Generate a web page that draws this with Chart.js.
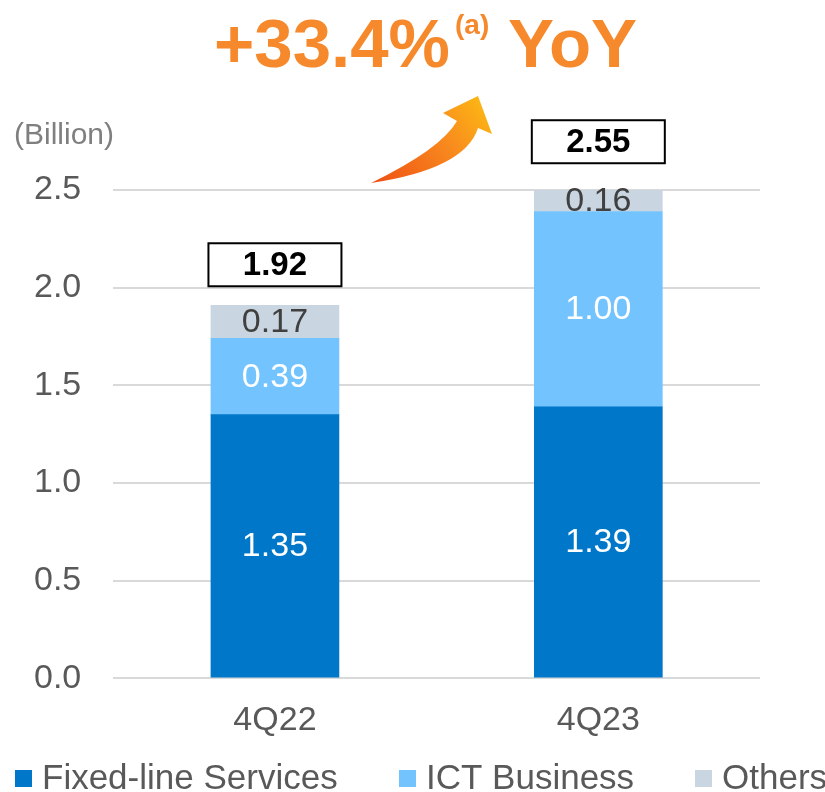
<!DOCTYPE html>
<html>
<head>
<meta charset="utf-8">
<script src="https://cdn.jsdelivr.net/npm/chart.js@4"></script>
<style>
  html, body { margin: 0; padding: 0; background: #fff; }
  #wrap { width: 825px; height: 792px; position: relative; }
</style>
</head>
<body>
<div id="wrap"><canvas id="rev"></canvas></div>
<script>
const quarters = ["4Q22", "4Q23"];
const fixedLine = [1.35, 1.39];
const ictBusiness = [0.39, 1.00];
const others = [0.17, 0.16];
const totals = [1.92, 2.55];
const yTicks = [0, 0.5, 1.0, 1.5, 2.0, 2.5];
const seriesNames = ["Fixed-line Services", "ICT Business", "Others"];
const seriesColors = ["#0077C8", "#73C3FF", "#C9D5E1"];

const FONT = "'Liberation Sans', Arial, sans-serif";

// labels inside the segments, total boxes, headline, arrow and legend
const decorations = {
  id: "decorations",
  afterDatasetsDraw(chart) {
    const ctx = chart.ctx;
    const area = chart.chartArea;
    const yScale = chart.scales.y;
    ctx.save();
    ctx.font = "34px " + FONT;
    ctx.textAlign = "center";
    ctx.textBaseline = "middle";
    chart.data.datasets.forEach((ds, i) => {
      const meta = chart.getDatasetMeta(i);
      meta.data.forEach((bar, j) => {
        const top = Math.max(bar.y, area.top);
        const mid = (top + bar.base) / 2;
        ctx.fillStyle = i === 2 ? "#404040" : "#ffffff";
        ctx.fillText(ds.data[j].toFixed(2), bar.x, mid + 1);
      });
    });

    // total boxes
    const meta0 = chart.getDatasetMeta(0);
    totals.forEach((t, j) => {
      const x = meta0.data[j].x;
      const bottom = yScale.getPixelForValue(t) - 17;
      const w = 133, h = 43;
      ctx.fillStyle = "#ffffff";
      ctx.fillRect(x - w / 2, bottom - h, w, h);
      ctx.lineWidth = 2;
      ctx.strokeStyle = "#000000";
      ctx.strokeRect(x - w / 2, bottom - h, w, h);
      ctx.fillStyle = "#000000";
      ctx.font = "bold 33px " + FONT;
      ctx.fillText(t.toFixed(2), x, bottom - h / 2 + 1);
    });
    ctx.restore();
  },
  afterDraw(chart) {
    const ctx = chart.ctx;
    ctx.save();
    // unit label
    ctx.fillStyle = "#7f7f7f";
    ctx.font = "30px " + FONT;
    ctx.textAlign = "left";
    ctx.textBaseline = "alphabetic";
    ctx.fillText("(Billion)", 14, 144);

    // headline
    ctx.fillStyle = "#F6892B";
    ctx.font = "bold 69px " + FONT;
    ctx.fillText("+33.4%", 214, 67);
    ctx.font = "bold 28px " + FONT;
    ctx.fillText("(a)", 455, 34);
    ctx.font = "bold 69px " + FONT;
    ctx.fillText("YoY", 508, 67);

    // curved arrow
    const grad = ctx.createLinearGradient(372, 182, 485, 100);
    grad.addColorStop(0, "#EF4F14");
    grad.addColorStop(0.6, "#F88A1E");
    grad.addColorStop(1, "#FDB814");
    ctx.fillStyle = grad;
    ctx.beginPath();
    ctx.moveTo(371, 183);
    ctx.quadraticCurveTo(465, 169, 478, 128);
    ctx.lineTo(492, 134);
    ctx.lineTo(478, 96);
    ctx.lineTo(443, 113);
    ctx.lineTo(457, 121);
    ctx.quadraticCurveTo(441, 149, 371, 183);
    ctx.closePath();
    ctx.fill();

    // legend
    const legendX = [15, 399, 695];
    ctx.font = "35px " + FONT;
    ctx.textBaseline = "alphabetic";
    seriesNames.forEach((name, i) => {
      ctx.fillStyle = seriesColors[i];
      ctx.fillRect(legendX[i], 770, 17, 17);
      ctx.fillStyle = "#595959";
      ctx.fillText(name, legendX[i] + 27, 789);
    });
    ctx.restore();
  }
};

new Chart(document.getElementById("rev"), {
  type: "bar",
  data: {
    labels: quarters,
    datasets: seriesNames.map((name, i) => ({
      label: name,
      data: [fixedLine, ictBusiness, others][i],
      backgroundColor: seriesColors[i],
    })),
  },
  options: {
    responsive: true,
    maintainAspectRatio: false,
    animation: false,
    layout: { padding: { top: 190, right: 65, left: 2, bottom: 37 } },
    datasets: { bar: { barThickness: 128 } },
    scales: {
      x: {
        stacked: true,
        grid: { display: false },
        border: { display: false },
        ticks: { color: "#595959", font: { family: FONT, size: 34 }, padding: 14 },
      },
      y: {
        stacked: true,
        min: 0,
        max: 2.5,
        afterBuildTicks: (axis) => {
          axis.ticks = yTicks.map((v) => ({ value: v }));
        },
        grid: { color: "#d9d9d9", lineWidth: 2, drawTicks: false },
        border: { display: false },
        ticks: {
          color: "#595959",
          font: { family: FONT, size: 34 },
          padding: 32,
          callback: (v) => v.toFixed(1),
        },
      },
    },
    plugins: {
      legend: { display: false },
      tooltip: { enabled: false },
    },
  },
  plugins: [decorations],
});
</script>
</body>
</html>
